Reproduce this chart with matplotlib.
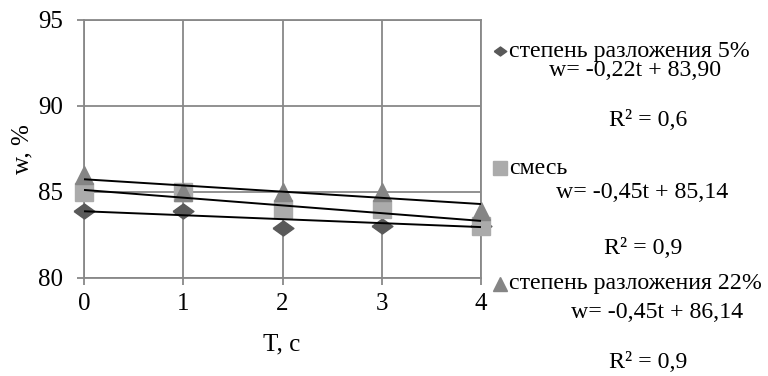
import matplotlib
matplotlib.use("Agg")
import matplotlib.pyplot as plt
from matplotlib.lines import Line2D
import numpy as np

plt.rcParams['font.family'] = ['Liberation Serif', 'DejaVu Serif']

# ---- data ----
t = [0, 1, 2, 3, 4]
w_5 = [83.9, 83.9, 82.9, 83.0, 83.0]      # степень разложения 5%
w_mix = [85.0, 85.0, 84.0, 84.0, 83.0]    # смесь
w_22 = [86.0, 85.0, 85.0, 85.0, 83.9]     # степень разложения 22%

# trend lines as drawn (slope, intercept)
trend_slope = [-0.23, -0.45, -0.36]
trend_intercept = [83.88, 85.12, 85.74]

series_names = ["степень разложения 5%", "смесь", "степень разложения 22%"]
eq_labels = ["w= -0,22t + 83,90", "w= -0,45t + 85,14", "w= -0,45t + 86,14"]
r2_labels = ["R² = 0,6", "R² = 0,9", "R² = 0,9"]

x_ticks = [0, 1, 2, 3, 4]
y_ticks = [80, 85, 90, 95]

W, H = 768, 376
fig = plt.figure(figsize=(W / 100, H / 100), dpi=100)

def fx(px):
    return px / W

def fy(py):
    return 1 - py / H

ax = fig.add_axes([fx(84), fy(278), fx(481) - fx(84), fy(20) - fy(278)])

grid_col = '#888888'
diamond = [(-1, 0), (0, 0.72), (1, 0), (0, -0.72), (-1, 0)]
col_5, col_mix, col_22 = '#595959', '#ababab', '#858585'

ax.plot(t, w_5, linestyle='none', marker=diamond, markersize=15, color=col_5,
        zorder=3, clip_on=False)
ax.plot(t, w_mix, linestyle='none', marker='s', markersize=13.5, color=col_mix,
        zorder=4, clip_on=False)
ax.plot(t, w_22, linestyle='none', marker='^', markersize=13.5, color=col_22,
        zorder=5, clip_on=False)

tt = np.array([t[0], t[-1]], dtype=float)
for s, b in zip(trend_slope, trend_intercept):
    ax.plot(tt, s * tt + b, color='black', linewidth=1.4, zorder=6,
            solid_capstyle='butt', clip_on=False)

ax.set_xlim(0, 4)
ax.set_ylim(80, 95)
ax.set_xticks(x_ticks)
ax.set_yticks(y_ticks)
ax.grid(True, color=grid_col, linewidth=1.3)
ax.set_axisbelow(True)
for sp in ax.spines.values():
    sp.set_color(grid_col)
    sp.set_linewidth(1.3)
fs = 18
ax.tick_params(axis='both', colors=grid_col, length=5, width=1.3, labelsize=fs,
               labelcolor='black')
ax.tick_params(axis='y', pad=10)
ax.tick_params(axis='x', pad=6)

fig.text(fx(282), fy(344), "T, c", fontsize=fs, ha='center', va='center')
fig.text(fx(22), fy(149), "w, %", fontsize=fs, ha='center', va='center', rotation=90)

# ---- legend / trend-line labels ----
lfs = 17.2
leg_rows = [51, 168, 284]
eq_pos = [(635, 71), (642, 193), (657, 313)]
r2_pos = [(648, 120), (643, 249), (648, 363)]
leg_markers = [(diamond, 9, col_5), ('s', 9.5, col_mix), ('^', 9.5, col_22)]

for i in range(3):
    m, ms, c = leg_markers[i]
    fig.add_artist(Line2D([fx(500)], [fy(leg_rows[i])], marker=m, markersize=ms,
                          color=c, linestyle='none', transform=fig.transFigure))
    fig.text(fx(509), fy(leg_rows[i]), series_names[i], fontsize=lfs, va='center', ha='left')
    fig.text(fx(eq_pos[i][0]), fy(eq_pos[i][1]), eq_labels[i], fontsize=lfs,
             va='center', ha='center')
    fig.text(fx(r2_pos[i][0]), fy(r2_pos[i][1]), r2_labels[i], fontsize=lfs,
             va='center', ha='center')

fig.savefig("out.png", dpi=100)
